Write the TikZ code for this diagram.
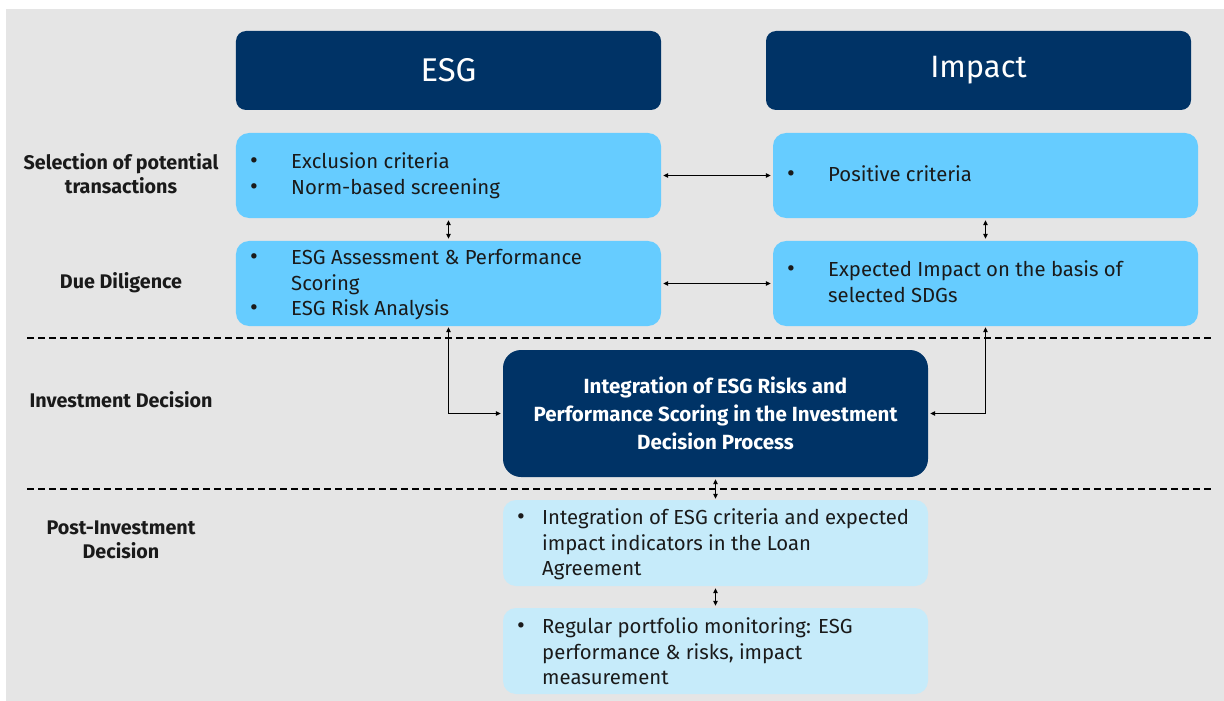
\documentclass[tikz,border=0pt]{standalone}
\usepackage{fontspec}
\setmainfont{Fira Sans}
\usetikzlibrary{arrows.meta}
\definecolor{navy}{RGB}{0,51,102}
\definecolor{lblue}{RGB}{102,204,255}
\definecolor{pblue}{RGB}{198,235,250}
\definecolor{bggray}{RGB}{229,229,229}
\definecolor{txt}{RGB}{26,26,26}
\tikzset{
  header/.style={fill=navy,rounded corners=10bp,minimum width=425bp,minimum height=79bp,text=white,inner sep=0pt},
  selbox/.style={fill=lblue,rounded corners=13bp,minimum width=425bp,minimum height=85bp,inner sep=0pt},
  postbox/.style={fill=pblue,rounded corners=13bp,minimum width=425bp,minimum height=86bp,inner sep=0pt},
  decbox/.style={fill=navy,rounded corners=18bp,minimum width=425bp,minimum height=127bp,inner sep=0pt},
  itemtxt/.style={anchor=mid west,inner sep=0pt,yshift=-3bp,text=txt,font=\fontsize{20.4}{26}\selectfont},
  bul/.style={anchor=mid,inner sep=0pt,yshift=-3bp,text=txt,font=\fontsize{24}{26}\selectfont},
  rowlabel/.style={align=center,inner sep=0pt,text=txt,font=\bfseries\fontsize{19.8}{24}\selectfont},
  conn/.style={{Triangle[length=5bp,width=4.5bp]}-{Triangle[length=5bp,width=4.5bp]},line width=1bp,black},
  sep/.style={line width=1.1bp,black,dash pattern=on 7bp off 4bp}
}
\begin{document}
\begin{tikzpicture}[x=1bp,y=-1bp]
\useasboundingbox (0,0) rectangle (1224,701);
\fill[bggray] (6,9) rectangle (1224,701);

% headers
\node[header,font=\fontsize{33}{36}\selectfont] (esgh) at (448.5,70.5) {ESG};
\node[header,font=\fontsize{31}{36}\selectfont] (imph) at (978.5,70.5) {Impact};

% selection row
\node[selbox] (esgsel) at (448.5,175.5) {};
\node[selbox] (impsel) at (985.5,175.5) {};
\node[bul] (b1) at (254,163) {•};
\node[itemtxt] (t1) at (291,163) {Exclusion criteria};
\node[bul] (b2) at (254,189) {•};
\node[itemtxt] (t2) at (291,189) {Norm-based screening};
\node[bul] (b3) at (791,176) {•};
\node[itemtxt] (t3) at (828,176) {Positive criteria};

% due diligence row
\node[selbox] (esgdd) at (448.5,283.5) {};
\node[selbox] (impdd) at (985.5,283.5) {};
\node[bul] (b4) at (254,259) {•};
\node[itemtxt] (t4) at (291,259) {ESG Assessment \& Performance};
\node[itemtxt] (t4b) at (291,285) {Scoring};
\node[bul] (b5) at (254,310) {•};
\node[itemtxt] (t5) at (291,310) {ESG Risk Analysis};
\node[bul] (b6) at (791,271) {•};
\node[itemtxt] (t6) at (828,271) {Expected Impact on the basis of};
\node[itemtxt] (t6b) at (828,297) {selected SDGs};

% decision
\node[decbox] (dec) at (715.5,413.5) {};
\node[align=center,inner sep=0pt,text=white,font=\bfseries\fontsize{20.6}{28}\selectfont] (dect) at (715.5,413) {Integration of ESG Risks and\\Performance Scoring in the Investment\\Decision Process};

% post investment
\node[postbox] (p1) at (715.5,543) {};
\node[postbox] (p2) at (715.5,651) {};
\node[bul] (b7) at (521,519) {•};
\node[itemtxt] (t7) at (542,519) {Integration of ESG criteria and expected};
\node[itemtxt] (t7b) at (542,545) {impact indicators in the Loan};
\node[itemtxt] (t7c) at (542,570) {Agreement};
\node[bul] (b8) at (521,628) {•};
\node[itemtxt] (t8) at (542,628) {Regular portfolio monitoring: ESG};
\node[itemtxt] (t8b) at (542,654) {performance \& risks, impact};
\node[itemtxt] (t8c) at (542,679) {measurement};

% row labels
\node[rowlabel] (l1) at (121,174) {Selection of potential\\transactions};
\node[rowlabel] (l2) at (121,283) {Due Diligence};
\node[rowlabel] (l3) at (121,400) {Investment Decision};
\node[rowlabel] (l4) at (121,540) {Post-Investment\\Decision};

% separators
\coordinate (d1a) at (27,338);
\coordinate (d1b) at (1212,338);
\coordinate (d2a) at (27,489);
\coordinate (d2b) at (1212,489);
\draw[sep] (d1a) -- (d1b);
\draw[sep] (d2a) -- (d2b);

% connectors
\draw[conn,shorten <=2bp,shorten >=2bp] (esgsel.east) -- (impsel.west);
\draw[conn,shorten <=2bp,shorten >=2bp] (esgdd.east) -- (impdd.west);
\draw[conn,shorten <=2bp,shorten >=2bp] (esgsel.south) -- (esgdd.north);
\draw[conn,shorten <=2bp,shorten >=2bp] (impsel.south) -- (impdd.north);
\draw[conn,shorten <=1bp,shorten >=2bp] (esgdd.south) |- (dec.west);
\draw[conn,shorten <=1bp,shorten >=2bp] (impdd.south) |- (dec.east);
\draw[conn,shorten <=2bp,shorten >=1bp] (dec.south) -- (p1.north);
\draw[conn,shorten <=2bp,shorten >=2bp] (p1.south) -- (p2.north);
\end{tikzpicture}
\end{document}
